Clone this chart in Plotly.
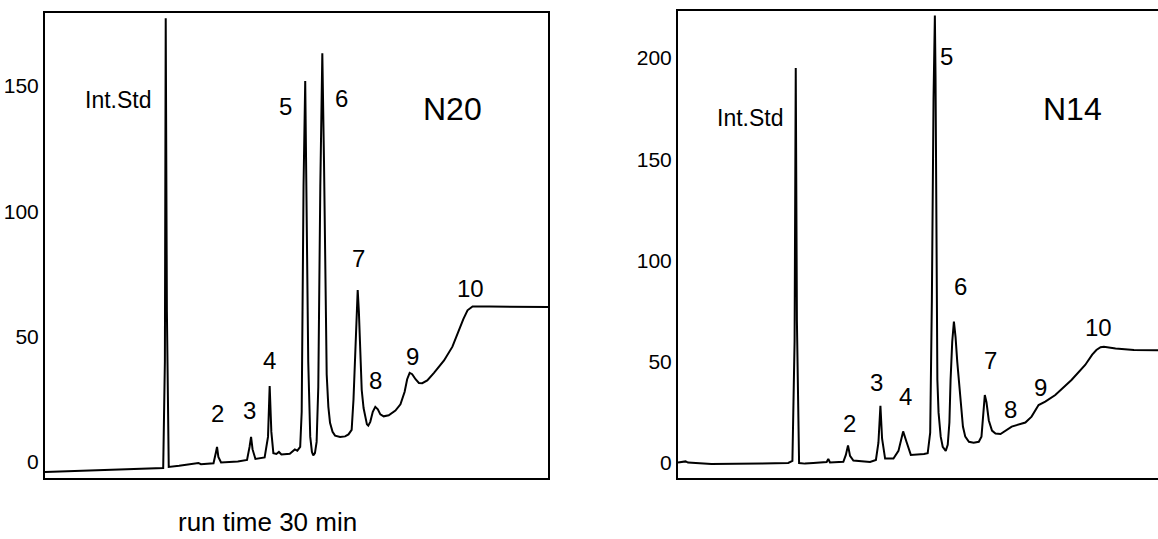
import plotly.graph_objects as go

W, H = 1158, 539

# ---- N20 chromatogram (time in min, detector signal) ----
n20_time = [0, 3, 6.5, 7.05, 7.15, 7.2, 7.27, 7.38, 8.0, 9.0, 9.15, 9.3, 10.05, 10.2, 10.26, 10.34, 10.5,
            11.5, 12.05, 12.2, 12.29, 12.38, 12.55, 13.1, 13.3, 13.4, 13.5, 13.62, 13.8, 13.95, 14.1, 14.6,
            14.9, 15.05, 15.22, 15.31, 15.42, 15.52, 15.6, 15.7, 15.82, 15.92, 16.0, 16.1, 16.2, 16.3, 16.42,
            16.54, 16.64, 16.72, 16.8, 16.9, 17.0, 17.15, 17.3, 17.6, 17.9, 18.1, 18.29, 18.4, 18.5, 18.58,
            18.65, 18.72, 18.8, 18.89, 19.0, 19.09, 19.2, 19.28, 19.4, 19.55, 19.7, 19.85, 20.0, 20.2,
            20.5, 20.9, 21.2, 21.45, 21.6, 21.75, 21.9, 22.1, 22.3, 22.5, 22.8, 23.2,
            23.8, 24.3, 24.7, 24.95, 25.2, 25.5, 26.5, 28, 30]
n20_signal = [-4.0, -3.4, -2.6, -2.4, 40, 177, 60, -2.0, -1.5, -0.8, -0.4, -0.9, -0.5, 4, 6.0, 2, -0.2,
              0.2, 0.8, 6, 10, 5, 1.2, 1.8, 10, 30.3, 12, 3.5, 3.2, 4.0, 3.0, 3.3,
              5.0, 4.5, 6, 20, 110, 152, 110, 40, 10, 4, 2.6, 3.5, 8, 30, 110,
              163, 120, 70, 35, 22, 15.6, 12, 10.5, 10, 10.2, 11, 12.8, 25, 45, 62,
              68.6, 60, 42, 28.7, 21.5, 18, 15, 14.5, 16, 20, 22, 21, 19, 18.2,
              18.6, 20.5, 23, 28, 33, 35.5, 35, 33, 31.5, 31.4, 32.5, 35.5,
              40.5, 46, 53, 57, 60.5, 62, 62, 61.8, 61.8]

# ---- N14 chromatogram ----
n14_time = [0, 0.45, 0.6, 2, 5, 6.6, 6.85, 6.98, 7.05, 7.12, 7.25, 7.6, 8.1, 8.9, 9.0, 9.1, 9.9, 10.05,
            10.18, 10.3, 10.5, 11.5, 11.85, 12.0, 12.12, 12.22, 12.4, 12.9, 13.2, 13.48, 13.7, 13.94, 14.73,
            14.95, 15.1, 15.2, 15.3, 15.38, 15.42, 15.46, 15.5, 15.53, 15.6, 15.73, 15.85, 16.03, 16.15,
            16.25, 16.32, 16.42, 16.52, 16.62, 16.72, 16.82, 16.95, 17.06, 17.2, 17.42, 17.7, 18.01, 18.17,
            18.28, 18.37, 18.47, 18.61, 18.8, 19.01, 19.31, 19.6, 19.98, 20.8, 21.17, 21.59, 21.99, 22.59,
            23.56, 24.38, 24.8, 25.05, 25.3, 25.5, 26.2, 27.3, 28.74, 29.5]
n14_signal = [0.3, 0.8, 0.2, -0.5, -0.3, 0.0, 1, 60, 195, 70, 0.0, -0.3, 0.0, 0.5, 2.0, 0.3, 0.6, 4,
              8.7, 3.5, 1.2, 0.5, 1.5, 10, 28.2, 12, 2.2, 2.2, 6, 15.6, 10, 4.0, 4.4,
              4.8, 15, 80, 180, 221, 190, 150, 90, 41, 25, 13, 8, 6, 9,
              20, 41, 60, 69.8, 62, 50, 41, 27, 18, 13, 10.5, 10, 10.5, 13,
              25, 33.6, 30, 21, 16, 14.6, 14.3, 16, 18, 20, 22.9, 28.6, 30.3, 33.6,
              41, 48.4, 53.5, 55.8, 57.2, 57.4, 56.6, 55.8, 55.7, 55.7]

# ---- labels ----
n20_label_text = ["Int.Std", "2", "3", "4", "5", "6", "7", "8", "9", "10"]
n20_label_time = [4.34, 10.3, 12.2, 13.4, 14.35, 17.7, 18.7, 19.7, 21.9, 25.4]
n20_label_sig = [144.4, 19.3, 20.4, 40.6, 141.8, 145, 81, 32.6, 42, 69]

n14_label_text = ["Int.Std", "2", "3", "4", "5", "6", "7", "8", "9", "10"]
n14_label_time = [4.3, 10.26, 11.9, 13.6, 16.05, 16.9, 18.7, 19.9, 21.7, 25.2]
n14_label_sig = [170.5, 19.3, 39.7, 33, 200.8, 87.2, 50.8, 26.6, 37.2, 66.7]

sample_names = ["N20", "N14"]
sample_pos = [(24.3, 141), (23.6, 175)]

n20_ticks = [0, 50, 100, 150]
n14_ticks = [0, 50, 100, 150, 200]

FONT = "Liberation Sans, Arial, sans-serif"

fig = go.Figure()
fig.add_trace(go.Scatter(x=n20_time, y=n20_signal, mode="lines",
                         line=dict(color="black", width=2), xaxis="x", yaxis="y",
                         showlegend=False, hoverinfo="skip"))
fig.add_trace(go.Scatter(x=n14_time, y=n14_signal, mode="lines",
                         line=dict(color="black", width=2), xaxis="x2", yaxis="y2",
                         showlegend=False, hoverinfo="skip"))

ydom = [1 - 478 / H, 1 - 13 / H]
ydom2 = [1 - 478 / H, 1 - 11 / H]

axis_common = dict(showgrid=False, zeroline=False, showline=True, linecolor="black",
                   linewidth=2, ticks="", automargin=False, fixedrange=True)

fig.update_layout(
    width=W, height=H,
    margin=dict(l=0, r=0, t=0, b=0),
    paper_bgcolor="white", plot_bgcolor="white",
    font=dict(family=FONT, color="black"),
    xaxis=dict(domain=[45 / W, 548 / W], range=[0, 30], showticklabels=False,
               mirror=True, anchor="y", **axis_common),
    yaxis=dict(domain=ydom, range=[-6.4, 179.1], tickvals=n20_ticks,
               tickfont=dict(size=21, family=FONT, color="black"),
               mirror=True, anchor="x", **axis_common),
    xaxis2=dict(domain=[678 / W, 1.0], range=[0, 28.74], showticklabels=False,
                mirror=True, anchor="y2", **axis_common),
    yaxis2=dict(domain=ydom2, range=[-7.4, 223.2], tickvals=n14_ticks,
                tickfont=dict(size=21, family=FONT, color="black"),
                mirror=False, anchor="x2", **axis_common),
)

annotations = []
for txt, t, s in zip(n20_label_text, n20_label_time, n20_label_sig):
    annotations.append(dict(x=t, y=s, xref="x", yref="y", text=txt, showarrow=False,
                            font=dict(size=23 if txt == "Int.Std" else 24, family=FONT, color="black")))
for txt, t, s in zip(n14_label_text, n14_label_time, n14_label_sig):
    annotations.append(dict(x=t, y=s, xref="x2", yref="y2", text=txt, showarrow=False,
                            font=dict(size=23 if txt == "Int.Std" else 24, family=FONT, color="black")))
for name, (t, s), xr, yr in zip(sample_names, sample_pos, ["x", "x2"], ["y", "y2"]):
    annotations.append(dict(x=t, y=s, xref=xr, yref=yr, text=name, showarrow=False,
                            font=dict(size=32, family=FONT, color="black")))
annotations.append(dict(x=267 / W, y=1 - 522 / H, xref="paper", yref="paper",
                        xanchor="center", yanchor="middle",
                        text="run time 30 min", showarrow=False,
                        font=dict(size=26, family=FONT, color="black")))
fig.update_layout(annotations=annotations)

fig.write_html("out.html", config={"displayModeBar": False},
               post_script="document.body.style.margin='0';document.body.style.overflow='hidden';")
